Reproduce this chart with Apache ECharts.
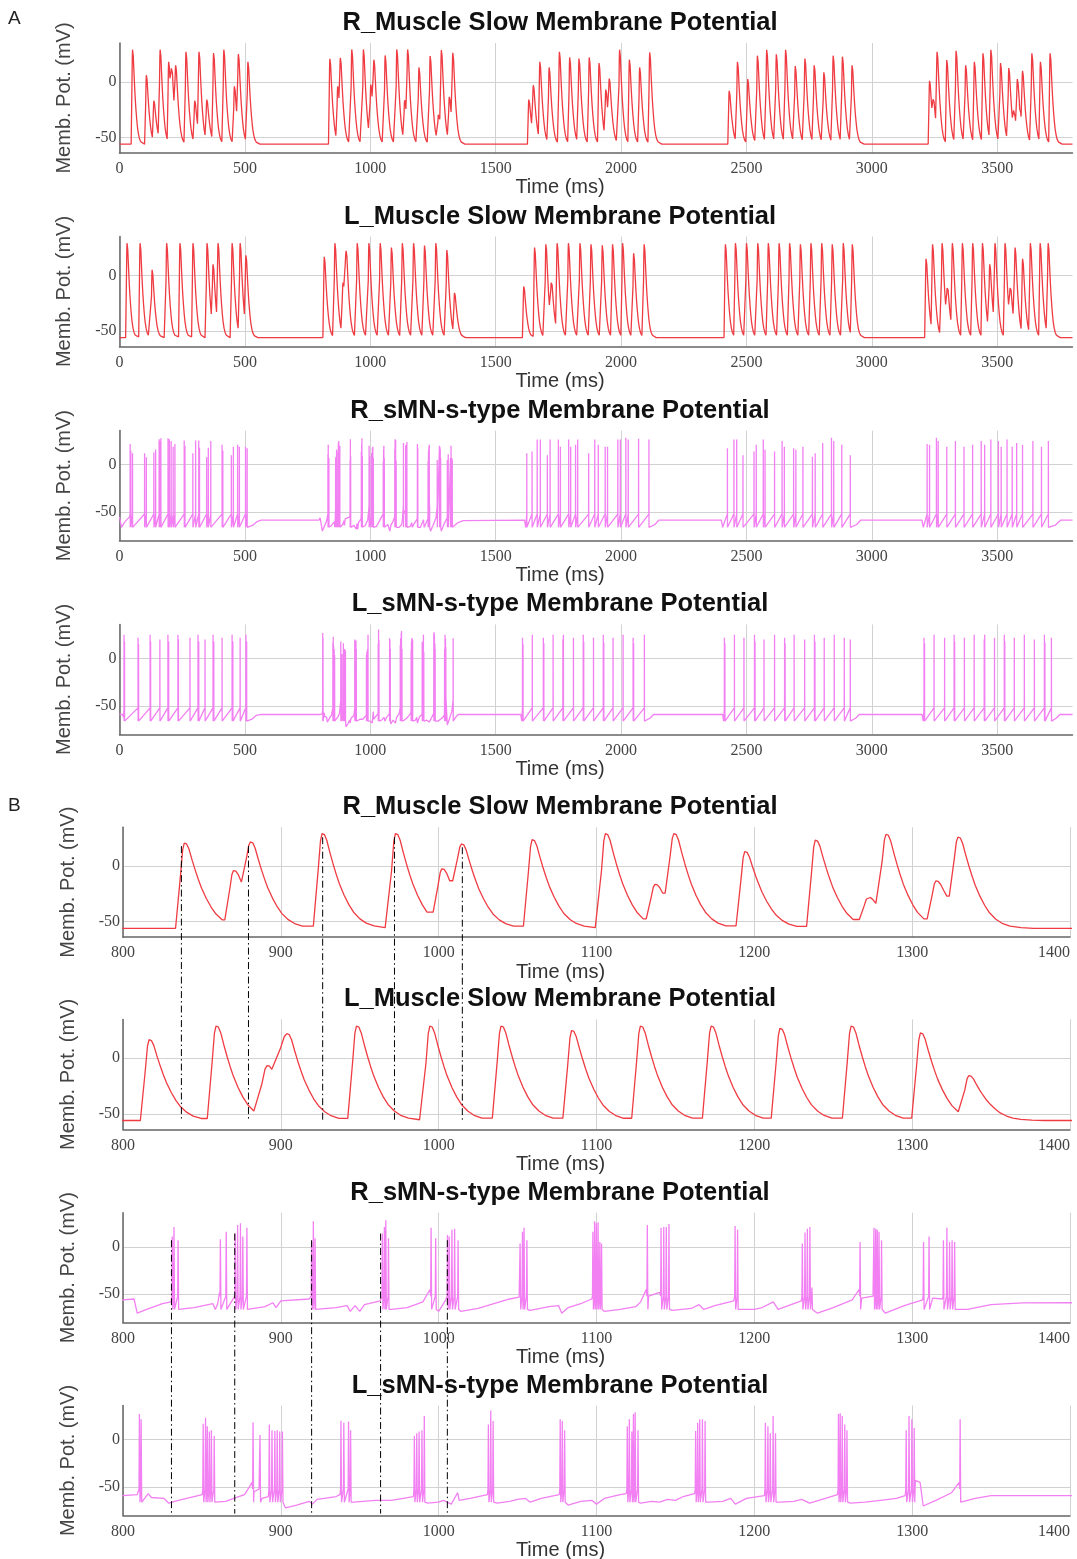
<!DOCTYPE html>
<html><head><meta charset="utf-8">
<script src="https://cdn.jsdelivr.net/npm/echarts@6/dist/echarts.min.js"></script>
<style>html,body{margin:0;padding:0;background:#fff}#c{width:1077px;height:1559px}</style>
</head><body><div id="c"></div>
<script>
// ================= DATA =================
const panelTitles = [
  'R_Muscle Slow Membrane Potential', 'L_Muscle Slow Membrane Potential',
  'R_sMN-s-type Membrane Potential', 'L_sMN-s-type Membrane Potential',
  'R_Muscle Slow Membrane Potential', 'L_Muscle Slow Membrane Potential',
  'R_sMN-s-type Membrane Potential', 'L_sMN-s-type Membrane Potential'
];
const xName = 'Time (ms)';
const yName = 'Memb. Pot. (mV)';
const yTickValues = [-50, 0];
const xTicksA = [0, 500, 1000, 1500, 2000, 2500, 3000, 3500];
const xTicksB = [800, 900, 1000, 1100, 1200, 1300, 1400];
const rangeA = [0, 3800];
const rangeB = [800, 1400];
const muscleY = [-64, 35];
const smnY = [-80, 36];

// muscle events: [peak time ms, peak mV, (optional onset ms)]
const muscleRest = -56;
const rMuscleSpikes = [
  [52,29],[107,6],[137,-17],[162,29],[196,18],[208,13],[224,15],[265,27],[300,-17],[317,27],[348,-16],[375,26],[416,29],[458,-4],[474,25],[512,18],
  [838.8,20.7],[870,-4],[880.7,21.7],[926.1,29.2],[972.6,29.2],[1002,-2.5],[1014.4,19.9],[1059.2,23.8],[1105.6,29.2],[1137,-16.5],[1149,29.2],[1193.9,13],[1238.6,23.3],[1272,-28],[1283.4,28.6],[1315,-13.4],[1329,26.1],
  [1632,-16],[1650,-3],[1676,18],[1713,13],[1754,27],[1795,22],[1832,21],[1873,22],[1912,17],[1939,-7],[1953,3],[1994,29],[2033,20],[2074,13],[2114,26.5],
  [2431,-8],[2464,18],[2505,2.5],[2543.5,23.6],[2580.6,28.9],[2619,24.8],[2656,28.9],[2694.5,14.3],[2733,21],[2770,15],[2808.5,8.7],[2845.6,23.6],[2882.6,22.7],[2921,15],
  [3230,1],[3245,-15],[3260,27],[3298.7,19.6],[3335.8,28],[3374,15],[3408.6,18],[3443,25.8],[3474.5,28.9],[3513,17],[3546,12.4],[3566,-25],[3580,2.5],[3590,-25],[3600.8,10],[3638,25.8],[3672,18],[3710.6,25.8]
];
const lMuscleSpikes = [
  [30,29],[82,29],[130,5],[188,29],[241,29],[293,29],[349,29],[373,10],[393,29],[449,29],[481,29],[504,18],
  [816.5,16.7],[858.9,29],[891.3,-6.5,884],[903.8,22.2,895],[947.9,29],[994.4,29],[1039.5,29],[1084.2,25],[1127.8,29],[1172.6,29],[1216.2,26.9],[1261.3,29],[1305.2,22.8],[1335.8,-15.7],
  [1612,-10],[1655,25],[1700,28],[1722,-5],[1745,29],[1790,29],[1836,29],[1880,28],[1925,27],[1966,28],[2006,29],[2050,20],[2092,28],
  [2416,28],[2456,29],[2500,29],[2545,29],[2587,29],[2630,29],[2672,29],[2715,28],[2757,29],[2800,29],[2842,28],[2886,29],[2922,28],
  [3216,15],[3242,28],[3280,29],[3301,-10],[3321,29],[3361,29],[3402,29],[3441,29],[3470,10],[3491,29],[3531,29],[3552,-10],[3571,25],[3601,15],[3632,29],[3671,29],[3703,29]
];

// motor-neuron spikes: [time ms, peak mV]; subthreshold waypoints: [time ms, mV]
const rSmnSpikes = [
  [42.5,22],[45,15],[52,12],[100,12],[107,8],[137,13],[144,16],[158,27],[161,25],[165,28],[193.5,28],[199,27],[206,25],[214,19],[221,22],[258,25.5],[261,20],[292.5,12],[303.5,25.5],[316,25.5],[319,18],[347.4,8],[354,18],[364,25],[409,21],[412,15],[446,10],[454,19],[471,21],[478,19],[502.5,19],[509,17.5],
  [831.2,11],[832.3,21],[834.9,7],[861.7,8],[865.4,16],[871.1,14],[872.6,23],[874.4,25],[875.9,11],[878.5,20],[919.5,5],[920.6,27],[921.7,9],
  [964.3,14],[965.6,21],[966.5,28],[968.2,9],[995.2,20],[998.1,9],[1005.6,12.5],[1006.7,11],[1008.4,18],[1010.1,19],[1012.3,7],
  [1051.6,3.6],[1053.1,16],[1054.1,20],[1055.9,7],[1097.7,16],[1098.8,27],[1099.9,25],[1101,26],[1102.1,5],[1103.2,3.6],
  [1132.2,23],[1140.9,20],[1142.6,21],[1144.2,21],[1145.9,24],[1187.8,22],[1189.4,18],
  [1230.4,3.6],[1232.1,15],[1233.6,19],[1235.2,21],[1236.5,-43],[1267,5],[1275.8,20],[1276.9,19],[1277.9,18],[1279,16],[1280.6,7],
  [1307.2,5],[1310.7,11],[1319.8,7],[1322,20],[1323.7,5],[1325.3,7],[1326.9,5],
  [1624,12],[1645,14],[1665.5,26.6],[1678,26.6],[1706,10],[1717,26.6],[1750,26.6],[1758,19],[1791,26.6],[1799,19],[1818.5,21],[1827,26.6],[1870.7,12],[1895,26.6],[1909,21],[1936.6,19],[1946,19],[1987,26.6],[1997,26.6],[2019,28.5],[2028.6,26.6],[2069.8,27.5],[2111,26.6],
  [2424,17.5],[2450,26.6],[2461,26.6],[2486,10],[2530,14],[2539,21],[2567,26.6],[2574,15.7],[2612,14],[2642,25],[2651,19],[2688,17.5],[2697,15.7],[2725,19],[2763,8.4],[2774,12],[2804,22.8],[2839,28.5],[2848,25],[2880,21],[2914,10],
  [3220.4,22],[3230,21],[3257.5,28.5],[3264.4,25],[3298.7,19],[3333,25],[3367.3,19],[3401.7,21],[3436,25],[3449.7,21],[3474.4,26.6],[3504.6,25],[3515.6,19],[3539,26.6],[3559.6,19],[3577.4,23],[3600.8,21],[3642,25],[3676.3,19],[3703.8,25]
];
const rSmnBase = [
  [0,-55],[8,-66],[22,-60],[40,-55],
  [512,-66],[530,-64],[548,-60],[565,-58.5],[795,-58.5],
  [800,-56],[807,-55],[809,-70],[815,-66],[825,-60],[830.5,-58],
  [836,-66],[845,-64],[857,-60],[858.5,-66],[860,-60],[861.2,-48],
  [880,-66],[890,-63],[895,-59],[897,-64],[900,-57],[918,-55],
  [923,-67],[935,-64],[942,-62],[944,-68],[947,-62],[950,-68],[953,-61],[963,-57],
  [970,-66],[980,-64],[990,-58],[994.5,-45],[1000,-68],[1004.5,-56],
  [1014,-68],[1025,-65],[1035,-60],[1045,-55],[1051,-53],
  [1058,-67],[1070,-63],[1076,-62],[1078,-70],[1082,-64],[1090,-60],[1097,-55],
  [1105,-68],[1115,-66],[1125,-63],[1128,-58],[1131.5,-45],[1133,-52],[1140,-48],
  [1148,-67],[1160,-65],[1165,-61],[1168,-66],[1175,-62],[1187,-57],
  [1192,-66],[1200,-66],[1205,-64],[1212,-58],[1215,-66],[1229.8,-57],
  [1240,-70],[1250,-64],[1262,-56],[1266.4,-45],[1268,-54],[1275.2,-52],
  [1283,-70],[1295,-62],[1306.6,-56],[1313,-54],[1319.2,-55],
  [1329,-66],[1335,-66],[1350,-61],[1370,-59],[1615,-58.5],[1620,-66],
  [2116,-66],[2135,-63],[2150,-58.5],[2400,-58.5],[2405,-66],
  [2918,-66],[2940,-63],[2955,-58.5],[3200,-58.5],[3205,-66],
  [3708,-66],[3730,-64],[3752,-58.5],[3800,-58.5]
];
const lSmnSpikes = [
  [18,25],[20,18],[74,22],[76,15],[122,25],[124,18],[161,20],[193,25],[196,18],[233,25],[235,20],[281,22],[313,25],[316,18],[341,20],[373,25],[376,18],[409,22],[449,25],[452,18],[481,22],[504,25],[507,18],
  [810.4,27],[811.5,21.5],[850.8,16.7],[852.3,23],[853.4,14],[854.7,8.5],[856,10],[857.8,3.7],[882.4,18],[886.8,4.8],
  [892.7,16],[894.4,10],[896.2,9],[897.7,10],[899.3,8.5],[901,8.5],[938.1,20],[939.9,17.8],[942.9,19],[944.2,10],
  [984.6,3.7],[986.1,6.7],[987.6,8.5],[989.4,10],[990.9,25],[1031.5,16],[1033,30.7],[1034.5,19.6],
  [1077,21.5],[1078.3,19.6],[1079.8,10],[1119.5,14],[1120.8,21.5],[1122.4,8.5],[1123.4,27],[1124.5,29],[1126.3,10],
  [1162.8,9],[1164.1,17.8],[1165.4,21.5],[1167.1,21.5],[1168.8,19.6],[1207,17.8],[1208.6,14],[1210.1,6.7],[1211.9,25],[1213.4,6.7],
  [1253.3,27],[1254.4,27.8],[1255.7,25],[1257.3,16],[1258.7,10],[1296.2,10],[1298,25],[1299.8,21.5],[1301.3,12.2],[1330.4,21.5],
  [1607,22],[1609,15],[1646,25],[1690,22],[1692,16],[1729,25],[1768,20],[1770,25],[1810,22],[1849,25],[1851,18],[1890,22],[1929,25],[1931,17],[1968,22],[2008,25],[2048,22],[2050,16],[2093,25],
  [2412,22],[2414,16],[2452,25],[2490,22],[2532,25],[2534,18],[2570,20],[2612,25],[2652,22],[2654,16],[2690,25],[2732,20],[2771,25],[2773,18],[2810,22],[2850,25],[2890,22],[2914,20],
  [3208,22],[3210,16],[3248,25],[3290,22],[3328,25],[3330,18],[3369,22],[3408,25],[3448,20],[3450,25],[3489,22],[3528,25],[3530,18],[3568,22],[3608,25],[3648,20],[3688,25],[3690,17],[3716,22]
];
const lSmnBase = [
  [0,-59],[12,-59],[16,-62],
  [510,-66],[528,-64],[545,-60],[565,-59],[800,-59],[809,-58],
  [813,-65],[816,-57],[818,-61],[826,-62],[829,-67],[835,-64],[845,-60],[850.2,-58],
  [859,-67],[865,-65],[872,-61],[877,-58],[880,-50],[881.8,-45],[883,-55],[886.2,-52],
  [888,-62],[892.1,-60],[903,-72],[910,-69],[918,-65],[920,-68],[923,-63],[935,-60],[937.5,-58],
  [946,-66],[960,-64],[970,-64],[984,-60],[993,-67],[1000,-66],[1003,-64],[1008,-68],[1012,-56],[1013,-64],[1020,-62],[1030.9,-58],
  [1037,-67],[1045,-65],[1050,-63],[1055,-62],[1058,-66],[1065,-62],[1076.4,-58],
  [1082,-69],[1090,-65],[1097,-64],[1100,-68],[1105,-62],[1115,-58],[1118.9,-57],
  [1128,-67],[1135,-65],[1140,-66],[1145,-63],[1150,-64],[1155,-60],[1162.2,-57],
  [1171,-66],[1180,-65],[1185,-62],[1188,-68],[1195,-62],[1206.4,-59],
  [1216,-66],[1225,-65],[1230,-63],[1235,-67],[1245,-62],[1252.7,-58],
  [1261,-67],[1270,-66],[1280,-64],[1290,-62],[1295.6,-59],
  [1302,-43],[1305,-45],[1307,-70],[1315,-64],[1325,-56],[1329.8,-45],
  [1332,-66],[1340,-62],[1350,-59],[1600,-59],[1604,-66],
  [2096,-66],[2115,-63],[2130,-59],[2405,-59],[2409,-66],
  [2917,-66],[2935,-63],[2950,-59],[3200,-59],[3205,-66],
  [3719,-66],[3735,-63],[3750,-59],[3800,-59]
];

// waveform shape
const riseMs = 5.5;
const riseShape = [[0.55, 0.6], [0.82, 0.92], [1, 1]];
const decayShape = [[1.5,0.99],[3,0.93],[5,0.8],[7,0.68],[9,0.57],[11,0.47],[14,0.35],[17,0.25],[20,0.17],[24,0.1],[28,0.055],[33,0.025],[40,0.008],[48,0]];
const spikeFoot = [-52, -66];

// dash-dot alignment markers in panel B
const dashMuscleTimes = [837, 879.5, 926.5, 972, 1015];
const dashMuscleTop = [18, 18, 26, 26, 17];
const dashMuscleBottom = -56;
const dashSmnTimes = [830.7, 870.8, 919.5, 963.2, 1005.5];
const dashSmnTop = [7, 14, 7, 14, 7];
const dashSmnBottom = -78;

// ================= BUILD =================
function buildMuscle(events, rest, t0, t1) {
  const pts = [[t0, rest]];
  let cur = rest;
  for (let i = 0; i < events.length; i++) {
    const [tp, vp, on] = events[i];
    const onset = on != null ? on : tp - riseMs;
    pts.push([onset, cur]);
    const v0 = cur;
    riseShape.forEach(([ft, fv]) => pts.push([onset + ft * (tp - onset), v0 + fv * (vp - v0)]));
    const nx = events[i + 1];
    const next = nx ? (nx[2] != null ? nx[2] : nx[0] - riseMs) : Infinity;
    let last = vp;
    for (const [dt, f] of decayShape) {
      if (tp + dt >= next) break;
      last = rest + f * (vp - rest);
      pts.push([tp + dt, last]);
    }
    cur = last;
  }
  pts.push([t1, rest]);
  return pts;
}
function buildSmn(base, spikes) {
  const pts = base.map(p => [p[0], p[1]]);
  spikes.forEach(([t, v]) => {
    pts.push([t - 0.25, spikeFoot[0]], [t, v], [t + 0.35, spikeFoot[1]]);
  });
  pts.sort((a, b) => a[0] - b[0]);
  return pts;
}

const traces = {
  rMus: buildMuscle(rMuscleSpikes, muscleRest, 0, 3800),
  lMus: buildMuscle(lMuscleSpikes, muscleRest, 0, 3800),
  rSmn: buildSmn(rSmnBase, rSmnSpikes),
  lSmn: buildSmn(lSmnBase, lSmnSpikes)
};

const RED = '#ef3b42', VIO = '#f280f2';
const panels = [
  {top: 43,    left: 119.5, width: 953, range: rangeA, ticks: xTicksA, y: muscleY, data: traces.rMus, color: RED},
  {top: 236.5, left: 119.5, width: 953, range: rangeA, ticks: xTicksA, y: muscleY, data: traces.lMus, color: RED},
  {top: 430.6, left: 119.5, width: 953, range: rangeA, ticks: xTicksA, y: smnY,    data: traces.rSmn, color: VIO},
  {top: 624.4, left: 119.5, width: 953, range: rangeA, ticks: xTicksA, y: smnY,    data: traces.lSmn, color: VIO},
  {top: 827.2, left: 123,   width: 947, range: rangeB, ticks: xTicksB, y: muscleY, data: traces.rMus, color: RED},
  {top: 1019.4,left: 123,   width: 947, range: rangeB, ticks: xTicksB, y: muscleY, data: traces.lMus, color: RED},
  {top: 1212.7,left: 123,   width: 947, range: rangeB, ticks: xTicksB, y: smnY,    data: traces.rSmn, color: VIO},
  {top: 1405.5,left: 123,   width: 947, range: rangeB, ticks: xTicksB, y: smnY,    data: traces.lSmn, color: VIO}
];
const H = 110;
const labelFont = {fontFamily: 'Liberation Serif', fontSize: 16, color: '#444'};
const option = {
  animation: false,
  backgroundColor: '#fff',
  title: panels.map((p, i) => ({
    text: panelTitles[i], left: 560, top: p.top - 33, textAlign: 'center', padding: 0,
    textStyle: {fontFamily: 'Liberation Sans', fontWeight: 'bold', fontSize: 25.5, color: '#111'}
  })),
  grid: panels.map(p => ({left: p.left, top: p.top, width: p.width, height: H, containLabel: false, outerBoundsMode: 'none'})),
  xAxis: panels.map((p, i) => ({
    type: 'value', gridIndex: i, min: p.range[0], max: p.range[1],
    name: xName, nameLocation: 'middle', nameGap: 23,
    nameTextStyle: {fontFamily: 'Liberation Sans', fontSize: 20, color: '#333', padding: [0, 72, 0, 0]},
    axisLine: {show: true, onZero: false, lineStyle: {color: '#666', width: 1.5}},
    axisTick: {show: false, customValues: p.ticks},
    axisLabel: Object.assign({margin: 8, customValues: p.ticks, formatter: v => String(v), alignMaxLabel: i < 4 ? null : 'right'}, labelFont),
    splitLine: {show: true, lineStyle: {color: '#d2d2d2', width: 1}}
  })),
  yAxis: panels.map((p, i) => ({
    type: 'value', gridIndex: i, min: p.y[0], max: p.y[1],
    name: yName, nameLocation: 'middle', nameRotate: 90, nameGap: 45,
    nameTextStyle: {fontFamily: 'Liberation Sans', fontSize: 20, color: '#444'},
    axisLine: {show: true, onZero: false, lineStyle: {color: '#666', width: 1.5}},
    axisTick: {show: false, customValues: yTickValues},
    axisLabel: Object.assign({margin: 3, customValues: yTickValues, formatter: v => String(v)}, labelFont),
    splitLine: {show: true, lineStyle: {color: '#d2d2d2', width: 1}}
  })),
  series: panels.map((p, i) => ({
    type: 'line', xAxisIndex: i, yAxisIndex: i, data: p.data, showSymbol: false, symbol: 'none',
    lineStyle: {color: p.color, width: 1.3}, itemStyle: {color: p.color}, silent: true, clip: true
  }))
};
const chart = echarts.init(document.getElementById('c'), null, {renderer: 'canvas'});
chart.setOption(option);

const g = [
  {type: 'text', left: 8, top: 9, style: {text: 'A', font: '19px "Liberation Sans"', fill: '#222'}},
  {type: 'text', left: 8, top: 796, style: {text: 'B', font: '19px "Liberation Sans"', fill: '#222'}}
];
function addDash(times, tops, bottom, gTop, gBot) {
  times.forEach((t, k) => {
    const a = chart.convertToPixel({gridIndex: gTop}, [t, tops[k]]);
    const b = chart.convertToPixel({gridIndex: gBot}, [t, bottom]);
    g.push({type: 'line', silent: true, z: 100,
      shape: {x1: a[0], y1: a[1], x2: b[0], y2: b[1]},
      style: {stroke: '#000', lineWidth: 1, lineDash: [7, 3, 1.5, 3]}});
  });
}
addDash(dashMuscleTimes, dashMuscleTop, dashMuscleBottom, 4, 5);
addDash(dashSmnTimes, dashSmnTop, dashSmnBottom, 6, 7);
chart.setOption({graphic: g});
</script></body></html>
